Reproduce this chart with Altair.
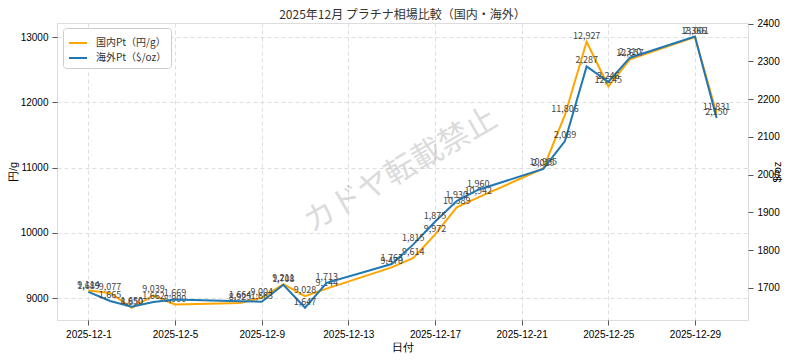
import altair as alt
import pandas as pd

# ---- data ----
dates = ["2025-12-01", "2025-12-02", "2025-12-03", "2025-12-04", "2025-12-05",
         "2025-12-08", "2025-12-09", "2025-12-10", "2025-12-11", "2025-12-12",
         "2025-12-15", "2025-12-16", "2025-12-17", "2025-12-18", "2025-12-19",
         "2025-12-22", "2025-12-23", "2025-12-24", "2025-12-25", "2025-12-26",
         "2025-12-29", "2025-12-30"]
jp_price = [9114, 9077, 8850, 9039, 8900,
            8925, 9004, 9211, 9028, 9144,
            9470, 9614, 9972, 10389, 10542,
            10985, 11806, 12927, 12245, 12657,
            13001, 11831]
us_price = [1689, 1665, 1650, 1662, 1669,
            1664, 1663, 1708, 1647, 1713,
            1763, 1815, 1875, 1930, 1960,
            2015, 2089, 2287, 2246, 2310,
            2366, 2150]
x_ticks = [1, 5, 9, 13, 17, 21, 25, 29]
jp_ticks = [9000, 10000, 11000, 12000, 13000]
us_ticks = [1700, 1800, 1900, 2000, 2100, 2200, 2300, 2400]
jp_name = "国内Pt（円/g）"
us_name = "海外Pt（$/oz）"
title_text = "2025年12月 プラチナ相場比較（国内・海外）"
watermark_text = "カドヤ転載禁止"

df = pd.DataFrame({"date": dates, "jp": jp_price, "us": us_price})
df["day"] = pd.to_datetime(df["date"]).dt.day
df["jp_s"] = jp_name
df["us_s"] = us_name

FONT = "Noto Sans CJK JP"
TXT = "#444444"
AX = "#555555"

x_enc = alt.X(
    "day:Q",
    scale=alt.Scale(domain=[-0.45, 31.45], nice=False, zero=False),
    axis=alt.Axis(values=x_ticks, labelExpr="'2025-12-' + datum.value",
                  title="日付", grid=True, gridDash=[4, 3], gridColor="#d5d5d5",
                  gridWidth=0.8, domain=False, tickSize=5, tickColor=AX,
                  labelPadding=4, titlePadding=2, titleFontWeight=400),
)

jp_y = alt.Y(
    "jp:Q",
    scale=alt.Scale(domain=[8663, 13215], nice=False, zero=False),
    axis=alt.Axis(values=jp_ticks, format="d", title="円/g", orient="left",
                  grid=True, gridDash=[4, 3], gridColor="#d5d5d5", gridWidth=0.8,
                  domain=False, tickSize=5, tickColor=AX, labelPadding=4,
                  titlePadding=2, titleFontWeight=400),
)
us_y = alt.Y(
    "us:Q",
    scale=alt.Scale(domain=[1614.5, 2402], nice=False, zero=False),
    axis=alt.Axis(values=us_ticks, format="d", title="$/oz", orient="right",
                  grid=False, domain=False, tickSize=5, tickColor=AX,
                  labelPadding=4, titlePadding=3, titleAngle=270,
                  titleFontWeight=400),
)

color_scale = alt.Scale(domain=[jp_name, us_name], range=["#FFA500", "#1f77b4"])
legend = alt.Legend(title=None, orient="none", legendX=6, legendY=5,
                    fillColor="white", strokeColor="#cccccc", cornerRadius=3,
                    padding=5, symbolType="stroke", symbolStrokeWidth=2,
                    symbolSize=324, labelFont=FONT, labelFontSize=10,
                    labelColor="#333333", rowPadding=0, labelOffset=8)

base = alt.Chart(df)

jp_line = base.mark_line(strokeWidth=2).encode(
    x=x_enc, y=jp_y,
    color=alt.Color("jp_s:N", scale=color_scale, legend=legend))
jp_text = base.mark_text(fontSize=9, color=TXT, baseline="bottom", dy=-1, font=FONT).encode(
    x=x_enc, y=jp_y, text=alt.Text("jp:Q", format=","))

us_line = base.mark_line(strokeWidth=2).encode(
    x=x_enc, y=us_y,
    color=alt.Color("us_s:N", scale=color_scale, legend=legend))
us_text = base.mark_text(fontSize=9, color=TXT, baseline="bottom", dy=-1, font=FONT).encode(
    x=x_enc, y=us_y, text=alt.Text("us:Q", format=","))

wm = alt.Chart(pd.DataFrame({"t": [watermark_text]})).mark_text(
    angle=330, fontSize=31, color="#999999", opacity=0.35, font=FONT
).encode(text="t:N", x=alt.value(344), y=alt.value(148))

title_mark = alt.Chart(pd.DataFrame({"t": [title_text]})).mark_text(
    fontSize=12, color="#333333", font=FONT, baseline="middle", align="center"
).encode(text="t:N", x=alt.value(345.5), y=alt.value(-8))

chart = alt.layer(
    wm,
    title_mark,
    alt.layer(jp_line, jp_text),
    alt.layer(us_line, us_text),
).resolve_scale(y="independent").properties(
    width=691, height=297,
    padding={"left": 49, "top": 15, "right": 44, "bottom": 37},
    autosize=alt.AutoSizeParams(type="none"),
).configure_view(stroke=AX, strokeWidth=1).configure_axis(
    labelFont=FONT, titleFont=FONT, labelFontSize=10, titleFontSize=10,
    labelColor=TXT, titleColor=TXT, titleFontWeight="normal",
).configure(background="white")

chart.save("out.html", embed_options={"renderer": "svg", "actions": False})
